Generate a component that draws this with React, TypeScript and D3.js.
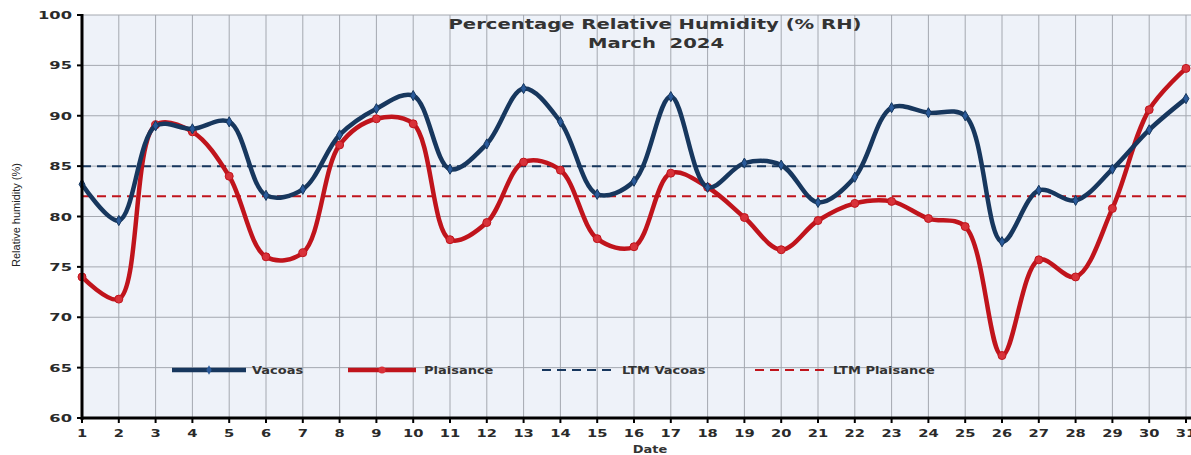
import React from "react";
import * as d3 from "d3";

const days = d3.range(1, 32);
const vacoas = [83.2, 79.6, 89.0, 88.7, 89.4, 82.1, 82.7, 88.1, 90.7, 92.0, 84.7, 87.2, 92.7, 89.4, 82.2, 83.5, 91.9, 82.9, 85.3, 85.1, 81.4, 83.9, 90.8, 90.3, 90.0, 77.5, 82.6, 81.6, 84.7, 88.6, 91.7];
const plaisance = [74.0, 71.8, 89.1, 88.4, 84.0, 76.0, 76.4, 87.1, 89.7, 89.2, 77.7, 79.4, 85.4, 84.6, 77.8, 77.0, 84.3, 82.9, 79.9, 76.7, 79.6, 81.3, 81.5, 79.8, 79.0, 66.2, 75.7, 74.0, 80.8, 90.6, 94.7];
const ltmVacoas = 85;
const ltmPlaisance = 82;
const yTicks = [60, 65, 70, 75, 80, 85, 90, 95, 100];
const legendItems = [
  { label: "Vacoas", key: "v" },
  { label: "Plaisance", key: "p" },
  { label: "LTM Vacoas", key: "lv" },
  { label: "LTM Plaisance", key: "lp" },
];

const W = 1191;
const H = 455;
const left = 82;
const right = 1186;
const top = 15;
const bottom = 418;

const BLUE = "#17375e";
const RED = "#c0141c";
const FONT = "'DejaVu Sans', Verdana, sans-serif";

function SText({
  x,
  y,
  sx = 1.45,
  anchor = "start",
  size,
  children,
  fill = "#2a2a2a",
  bold = true,
}: any) {
  return (
    <text
      transform={`translate(${x},${y}) scale(${sx},1)`}
      textAnchor={anchor}
      fontFamily={FONT}
      fontWeight={bold ? "bold" : "normal"}
      fontSize={size}
      fill={fill}
      style={{ whiteSpace: "pre" }}
    >
      {children}
    </text>
  );
}

export default function App() {
  const x = d3.scaleLinear().domain([1, 31]).range([left, right]);
  const y = d3.scaleLinear().domain([60, 100]).range([bottom, top]);
  const line = d3
    .line<number>()
    .x((_, i) => x(days[i]))
    .y((d) => y(d))
    .curve(d3.curveCatmullRom.alpha(0.5));

  const legendPos = [
    { x1: 172, x2: 246, tx: 252 },
    { x1: 348, x2: 416, tx: 424 },
    { x1: 542, x2: 616, tx: 622 },
    { x1: 755, x2: 826, tx: 833 },
  ];
  const legendY = 370;

  return (
    <svg
      width={W}
      height={H}
      style={{ position: "absolute", left: 0, top: 0, background: "#fff" }}
    >
      <rect x={left} y={top} width={W - left} height={bottom - top} fill="#eef2f9" />
      {/* grid */}
      {days.map((d) => (
        <line key={"gx" + d} x1={x(d)} x2={x(d)} y1={top} y2={bottom} stroke="#a4a8b0" strokeWidth={1} />
      ))}
      {yTicks.map((t) => (
        <line key={"gy" + t} x1={left} x2={W} y1={y(t)} y2={y(t)} stroke="#a4a8b0" strokeWidth={1} />
      ))}
      {/* LTM lines */}
      <line x1={left} x2={right} y1={y(ltmVacoas)} y2={y(ltmVacoas)} stroke={BLUE} strokeWidth={2} strokeDasharray="9,6" />
      <line x1={left} x2={right} y1={y(ltmPlaisance)} y2={y(ltmPlaisance)} stroke={RED} strokeWidth={2} strokeDasharray="9,6" />
      {/* series */}
      <path d={line(plaisance) || ""} fill="none" stroke={RED} strokeWidth={4.5} strokeLinejoin="round" />
      {plaisance.map((v, i) => (
        <circle key={"pm" + i} cx={x(days[i])} cy={y(v)} r={4} fill="#d8323a" stroke={RED} strokeWidth={1} />
      ))}
      <path d={line(vacoas) || ""} fill="none" stroke={BLUE} strokeWidth={4.5} strokeLinejoin="round" />
      {vacoas.map((v, i) => (
        <path
          key={"vm" + i}
          d={d3.symbol().type(d3.symbolDiamond).size(30)() || ""}
          transform={`translate(${x(days[i])},${y(v)})`}
          fill="#2a5a9a"
          stroke={BLUE}
          strokeWidth={1}
        />
      ))}
      {/* axes */}
      <line x1={left} x2={left} y1={top - 1} y2={bottom + 2} stroke="#000" strokeWidth={3} />
      <line x1={left - 1} x2={W} y1={bottom} y2={bottom} stroke="#000" strokeWidth={3} />
      {yTicks.map((t) => (
        <g key={"yt" + t}>
          <line x1={left - 5} x2={left} y1={y(t)} y2={y(t)} stroke="#000" strokeWidth={2} />
          <SText x={left - 10} y={y(t) + 4} anchor="end" size={10.5} sx={1.55}>
            {t}
          </SText>
        </g>
      ))}
      {days.map((d) => (
        <g key={"xt" + d}>
          <line x1={x(d)} x2={x(d)} y1={bottom} y2={bottom + 5} stroke="#000" strokeWidth={2} />
          <SText x={x(d)} y={bottom + 19} anchor="middle" size={10.5} sx={1.4}>
            {d}
          </SText>
        </g>
      ))}
      {/* titles */}
      <SText x={655} y={29} anchor="middle" size={14} sx={1.4} fill="#333">
        Percentage Relative Humidity (% RH)
      </SText>
      <SText x={656} y={48} anchor="middle" size={14} sx={1.4} fill="#333">
        {"March  2024"}
      </SText>
      <SText x={650} y={453} anchor="middle" size={10} sx={1.3} fill="#333">
        Date
      </SText>
      <text
        transform={`translate(20,${215}) rotate(-90)`}
        textAnchor="middle"
        fontFamily="'Liberation Sans Narrow', 'Liberation Sans', sans-serif"
        fontSize={11}
        fill="#222"
      >
        Relative humidity (%)
      </text>
      {/* legend */}
      {legendItems.map((it, i) => {
        const p = legendPos[i];
        const isBlue = it.key === "v" || it.key === "lv";
        const dashed = it.key === "lv" || it.key === "lp";
        const col = isBlue ? BLUE : RED;
        return (
          <g key={it.key}>
            <line
              x1={p.x1}
              x2={p.x2}
              y1={legendY}
              y2={legendY}
              stroke={col}
              strokeWidth={dashed ? 2 : 4.5}
              strokeDasharray={dashed ? "9,6" : undefined}
            />
            {it.key === "p" && <circle cx={(p.x1 + p.x2) / 2} cy={legendY} r={3.5} fill="#d8323a" />}
            {it.key === "v" && (
              <path
                d={d3.symbol().type(d3.symbolDiamond).size(25)() || ""}
                transform={`translate(${(p.x1 + p.x2) / 2},${legendY})`}
                fill="#2a5a9a"
              />
            )}
            <SText x={p.tx} y={legendY + 3.5} size={10} sx={1.3} fill="#333">
              {it.label}
            </SText>
          </g>
        );
      })}
    </svg>
  );
}
